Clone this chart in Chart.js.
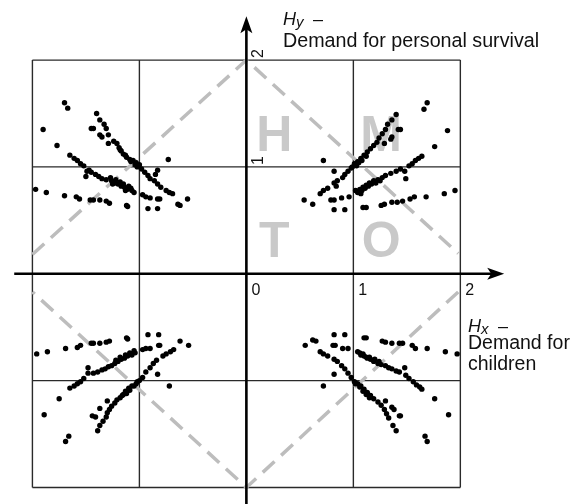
<!DOCTYPE html>
<html>
<head>
<meta charset="utf-8">
<script src="https://cdn.jsdelivr.net/npm/chart.js@4"></script>
<style>
  html, body { margin: 0; padding: 0; background: #fff; }
  #wrap { width: 573px; height: 504px; }
</style>
</head>
<body>
<div id="wrap"><canvas id="chart"></canvas></div>
<script>
// points, one list per quadrant, [Hx, Hy]
const topLeft = [
  [-1.70,1.60],[-1.67,1.55],[-1.90,1.35],[-1.77,1.20],[-0.73,1.07],
  [-1.40,1.50],[-1.37,1.44],[-1.45,1.36],[-1.43,1.36],[-1.33,1.40],[-1.31,1.36],[-1.37,1.30],[-1.35,1.28],
  [-1.29,1.30],[-1.29,1.22],[-1.24,1.24],[-1.21,1.22],[-1.19,1.18],[-1.17,1.15],[-1.15,1.12],[-1.12,1.09],
  [-1.09,1.07],[-1.06,1.06],[-1.03,1.04],[-1.00,1.02],
  [-1.18,1.16],[-1.13,1.11],[-1.08,1.05],[-1.04,1.02],[-1.02,1.00],
  [-0.98,0.98],[-0.95,0.95],[-0.92,0.92],[-0.90,0.89],[-0.86,0.87],[-0.83,0.84],[-0.80,0.81],[-0.75,0.78],
  [-0.72,0.76],[-0.69,0.75],[-0.83,0.97],[-0.85,0.93],
  [-1.65,1.11],[-1.61,1.08],[-1.58,1.06],[-1.55,1.03],[-1.52,1.01],[-1.49,0.96],[-1.45,0.95],[-1.41,0.93],
  [-1.38,0.91],[-1.35,0.89],[-1.31,0.88],[-1.26,0.87],[-1.23,0.85],[-1.20,0.84],[-1.17,0.82],[-1.14,0.81],
  [-1.11,0.79],[-1.07,0.78],[-1.05,0.76],[-1.50,0.91],[-1.47,0.97],[-1.25,0.84],[-1.13,0.78],
  [-1.27,0.90],[-1.22,0.88],[-1.18,0.86],[-1.15,0.84],[-1.10,0.82],[-1.08,0.80],
  [-1.97,0.79],[-1.87,0.76],[-1.70,0.73],[-1.59,0.72],[-1.56,0.70],[-1.46,0.69],[-1.43,0.69],[-1.37,0.69],
  [-1.31,0.68],[-1.28,0.66],[-1.12,0.64],[-1.11,0.63],[-0.97,0.74],[-0.94,0.72],[-0.90,0.71],[-0.83,0.70],
  [-0.81,0.70],[-0.92,0.61],[-0.83,0.61],[-0.64,0.65],[-0.62,0.64],[-0.55,0.70]
];
const topRight = [
  [1.69,1.60],[1.66,1.54],[1.88,1.34],[1.76,1.19],[0.72,1.06],[0.82,0.96],
  [1.40,1.49],[1.36,1.44],[1.32,1.40],[1.30,1.35],[1.27,1.31],[1.24,1.27],[1.22,1.23],[1.19,1.20],
  [1.16,1.17],[1.13,1.14],[1.10,1.11],[1.07,1.08],[1.04,1.05],[1.01,1.03],[1.42,1.35],[1.44,1.35],
  [1.35,1.26],[1.36,1.28],[1.29,1.22],
  [1.12,1.10],[1.08,1.06],[1.05,1.04],[1.03,1.01],[0.99,1.00],
  [0.98,0.99],[0.95,0.96],[0.92,0.93],[0.90,0.90],[0.85,0.87],[0.82,0.85],[0.84,0.82],[0.76,0.80],
  [0.72,0.78],[0.69,0.75],
  [1.02,0.78],[1.06,0.79],[1.09,0.81],[1.12,0.83],[1.15,0.85],[1.19,0.87],[1.23,0.88],[1.27,0.90],
  [1.30,0.92],[1.35,0.94],[1.40,0.96],[1.44,0.98],[1.48,0.96],[1.49,0.89],[1.52,1.01],[1.55,1.03],
  [1.58,1.06],[1.61,1.08],[1.64,1.10],[1.07,0.75],[1.04,0.76],
  [1.08,0.78],[1.11,0.80],[1.14,0.82],[1.17,0.84],[1.21,0.85],[1.25,0.87],
  [0.54,0.69],[0.62,0.65],[0.79,0.69],[0.82,0.69],[0.89,0.71],[0.96,0.72],[0.82,0.60],[0.92,0.60],
  [1.09,0.62],[1.12,0.62],[1.26,0.64],[1.29,0.65],[1.36,0.67],[1.41,0.67],[1.46,0.68],[1.53,0.70],
  [1.57,0.72],[1.68,0.72],[1.85,0.75],[1.95,0.78]
];
const bottomLeft = [
  [-1.96,-0.75],[-1.86,-0.73],[-1.69,-0.70],[-1.58,-0.69],[-1.55,-0.67],[-1.45,-0.65],[-1.43,-0.65],
  [-1.37,-0.65],[-1.31,-0.64],[-1.28,-0.63],[-1.12,-0.60],[-1.11,-0.61],[-0.92,-0.57],[-0.82,-0.57],
  [-0.97,-0.71],[-0.94,-0.70],[-0.90,-0.70],[-0.82,-0.67],[-0.81,-0.67],[-0.62,-0.63],[-0.54,-0.67],
  [-1.04,-0.74],[-1.07,-0.76],[-1.11,-0.77],[-1.14,-0.79],[-1.17,-0.80],[-1.20,-0.82],[-1.23,-0.84],
  [-1.26,-0.86],[-1.29,-0.87],[-1.32,-0.89],[-1.35,-0.90],[-1.39,-0.92],[-1.43,-0.93],[-1.48,-0.88],
  [-1.48,-0.93],[-1.52,-0.98],[-1.55,-1.01],[-1.58,-1.03],[-1.61,-1.05],[-1.65,-1.07],[-1.75,-1.17],
  [-1.89,-1.32],
  [-1.05,-0.72],[-1.09,-0.74],[-1.13,-0.76],[-1.18,-0.78],[-1.22,-0.81],
  [-1.00,-1.00],[-1.03,-1.03],[-1.07,-1.05],[-1.10,-1.07],[-1.13,-1.10],[-1.15,-1.13],[-1.18,-1.16],
  [-1.21,-1.18],[-1.23,-1.21],[-1.26,-1.24],[-1.28,-1.27],[-1.30,-1.30],[-1.31,-1.34],[-1.34,-1.38],
  [-1.37,-1.42],[-1.39,-1.47],[-1.30,-1.19],[-1.37,-1.26],[-1.44,-1.33],[-1.41,-1.34],[-1.66,-1.52],
  [-1.69,-1.57],
  [-1.02,-1.01],[-1.05,-1.05],[-1.09,-1.09],[-1.12,-1.12],[-1.16,-1.14],
  [-0.97,-0.97],[-0.94,-0.92],[-0.90,-0.88],[-0.87,-0.84],[-0.84,-0.81],[-0.83,-0.94],[-0.78,-0.77],
  [-0.75,-0.75],[-0.71,-0.73],[-0.68,-0.71],[-0.72,-1.05]
];
const bottomRight = [
  [0.55,-0.67],[0.62,-0.62],[0.65,-0.63],[0.82,-0.57],[0.92,-0.57],[0.81,-0.67],[0.83,-0.67],[0.90,-0.70],
  [0.95,-0.70],[1.10,-0.60],[1.12,-0.60],[1.27,-0.63],[1.30,-0.64],[1.36,-0.65],[1.43,-0.65],[1.46,-0.65],
  [1.55,-0.67],[1.58,-0.70],[1.69,-0.70],[1.86,-0.73],[1.97,-0.75],
  [0.69,-0.73],[0.72,-0.75],[0.76,-0.77],[0.82,-0.80],[0.85,-0.82],[0.89,-0.86],[0.92,-0.89],[0.95,-0.93],
  [0.98,-0.97],[0.82,-0.94],[0.72,-1.05],[1.01,-1.01],[1.04,-1.03],[1.07,-1.05],[1.10,-1.08],[1.13,-1.11],
  [1.16,-1.14],[1.19,-1.17],[1.23,-1.20],[1.26,-1.23],[1.29,-1.27],[1.31,-1.31],[1.33,-1.35],[1.37,-1.42],
  [1.40,-1.47],[1.30,-1.19],[1.36,-1.25],[1.38,-1.27],[1.43,-1.33],[1.44,-1.33],[1.67,-1.52],[1.69,-1.57],
  [1.76,-1.17],[1.89,-1.32],
  [1.02,-1.03],[1.06,-1.06],[1.09,-1.10],[1.12,-1.13],[1.15,-1.16],
  [1.04,-0.73],[1.07,-0.76],[1.10,-0.77],[1.13,-0.79],[1.16,-0.80],[1.19,-0.82],[1.23,-0.84],[1.26,-0.85],
  [1.30,-0.86],[1.33,-0.88],[1.36,-0.89],[1.40,-0.91],[1.43,-0.92],[1.48,-0.88],[1.49,-0.95],[1.52,-0.98],
  [1.56,-1.01],[1.59,-1.04],[1.62,-1.06],[1.64,-1.08],
  [1.06,-0.74],[1.09,-0.75],[1.12,-0.78],[1.15,-0.78],[1.20,-0.80],[1.24,-0.82]
];

// dashed boundary: two broken paths
const boundaryTop = [[-2, 0.18], [0, 2], [1.98, 0.19]];
const boundaryBottom = [[1.98, -0.17], [0, -2], [-2, -0.17]];

const gridValues = [-2, -1, 1, 2];
const xTickValues = [0, 1, 2];
const xTickLabels = ['0', '1', '2'];
const yTickValues = [1, 2];
const yTickLabels = ['1', '2'];
const zoneLetters = ['H', 'M', 'T', 'O'];

const toXY = arr => arr.map(p => ({x: p[0], y: p[1]}));

const gridData = [];
gridValues.forEach(v => {
  gridData.push({x: v, y: -2}, {x: v, y: 2}, {x: v, y: null});
  gridData.push({x: -2, y: v}, {x: 2, y: v}, {x: 2, y: null});
});

const boundaryData = toXY(boundaryTop).concat([{x: 1.98, y: null}], toXY(boundaryBottom));

const FONT = '"Liberation Sans", Arial, sans-serif';

const overlay = {
  id: 'overlay',
  beforeDatasetsDraw(chart) {
    const {ctx, scales: {x, y}} = chart;
    const spots = [[0.26, 1.15], [1.26, 1.15], [0.26, 0.16], [1.26, 0.16]];
    ctx.save();
    ctx.fillStyle = '#c9c9c9';
    ctx.font = 'bold 50px ' + FONT;
    ctx.textAlign = 'center';
    zoneLetters.forEach((t, i) => {
      ctx.fillText(t, x.getPixelForValue(spots[i][0]), y.getPixelForValue(spots[i][1]));
    });
    ctx.restore();
  },
  afterDatasetsDraw(chart) {
    const {ctx, scales: {x, y}} = chart;
    const x0 = x.getPixelForValue(0), y0 = y.getPixelForValue(0);
    ctx.save();
    // axes
    ctx.strokeStyle = '#000';
    ctx.lineWidth = 2.6;
    ctx.beginPath();
    ctx.moveTo(x.getPixelForValue(-2.17), y0);
    ctx.lineTo(x.getPixelForValue(2.3), y0);
    ctx.moveTo(x0, y.getPixelForValue(-2.2));
    ctx.lineTo(x0, y.getPixelForValue(2.3));
    ctx.stroke();
    ctx.fillStyle = '#000';
    const tx = x.getPixelForValue(2.41);
    ctx.beginPath();
    ctx.moveTo(tx, y0);
    ctx.lineTo(tx - 17, y0 - 6);
    ctx.lineTo(tx - 13, y0);
    ctx.lineTo(tx - 17, y0 + 6);
    ctx.closePath();
    ctx.fill();
    const ty = y.getPixelForValue(2.41);
    ctx.beginPath();
    ctx.moveTo(x0, ty);
    ctx.lineTo(x0 - 6, ty + 17);
    ctx.lineTo(x0, ty + 13);
    ctx.lineTo(x0 + 6, ty + 17);
    ctx.closePath();
    ctx.fill();

    // tick labels
    ctx.fillStyle = '#111';
    ctx.font = '16px ' + FONT;
    ctx.textAlign = 'left';
    ctx.textBaseline = 'alphabetic';
    xTickValues.forEach((v, i) => {
      ctx.fillText(xTickLabels[i], x.getPixelForValue(v) + 5, y0 + 21);
    });
    yTickValues.forEach((v, i) => {
      ctx.save();
      ctx.translate(x0 + 17, y.getPixelForValue(v) - 2);
      ctx.rotate(-Math.PI / 2);
      ctx.fillText(yTickLabels[i], 0, 0);
      ctx.restore();
    });

    // axis titles
    const title = (left, base, sub) => {
      ctx.font = 'italic 18px ' + FONT;
      ctx.fillText('H', left, base);
      const w = ctx.measureText('H').width;
      ctx.font = 'italic 15px ' + FONT;
      ctx.fillText(sub, left + w, base + 2);
      ctx.font = '18px ' + FONT;
      ctx.fillText('\u2013', left + w + 17, base);
    };
    title(283, 25, 'y');
    ctx.font = '19.7px ' + FONT;
    ctx.fillText('Demand for personal survival', 283, 47);
    title(468, 332, 'x');
    ctx.font = '19.5px ' + FONT;
    ctx.fillText('Demand for', 468, 349);
    ctx.fillText('children', 468, 370);
    ctx.restore();
  }
};

const dotStyle = {
  type: 'scatter',
  pointRadius: 2.7,
  pointHoverRadius: 2.7,
  pointBackgroundColor: '#000',
  pointBorderWidth: 0,
  showLine: false
};

new Chart(document.getElementById('chart'), {
  type: 'scatter',
  data: {
    datasets: [
      Object.assign({label: 'top left', data: toXY(topLeft)}, dotStyle),
      Object.assign({label: 'top right', data: toXY(topRight)}, dotStyle),
      Object.assign({label: 'bottom left', data: toXY(bottomLeft)}, dotStyle),
      Object.assign({label: 'bottom right', data: toXY(bottomRight)}, dotStyle),
      {
        type: 'line', label: 'boundary', data: boundaryData,
        borderColor: '#bdbdbd', borderWidth: 3.5, borderDash: [16, 9],
        pointRadius: 0, fill: false, spanGaps: false, tension: 0
      },
      {
        type: 'line', label: 'grid', data: gridData,
        borderColor: '#2a2a2a', borderWidth: 1.4,
        pointRadius: 0, fill: false, spanGaps: false, tension: 0
      }
    ]
  },
  options: {
    responsive: true,
    maintainAspectRatio: false,
    animation: false,
    layout: {padding: 0},
    plugins: {legend: {display: false}, tooltip: {enabled: false}},
    scales: {
      x: {type: 'linear', display: false, min: -246 / 108, max: (573 - 246) / 108},
      y: {type: 'linear', display: false, min: -(504 - 274) / 108, max: 274 / 108}
    }
  },
  plugins: [overlay]
});
</script>
</body>
</html>
